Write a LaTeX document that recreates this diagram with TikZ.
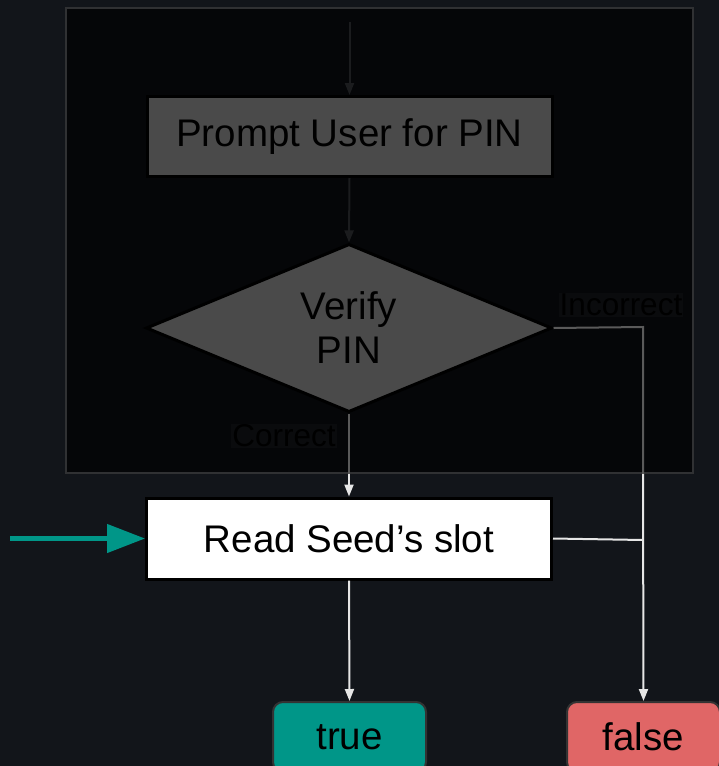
\documentclass[tikz,border=0pt]{standalone}
\usepackage{fontspec}
\setmainfont{Liberation Sans}
\usetikzlibrary{shapes.geometric,arrows.meta}

\definecolor{pagebg}{HTML}{12151A}
\definecolor{panelfill}{HTML}{050608}
\definecolor{paneledge}{HTML}{303133}
\definecolor{dimfill}{HTML}{4A4A4A}
\definecolor{dimline}{HTML}{5A5A5A}
\definecolor{faintline}{HTML}{1B1C1E}
\definecolor{labelbg}{HTML}{0A0B0D}
\definecolor{okteal}{HTML}{009688}
\definecolor{badred}{HTML}{E06666}
\definecolor{lightline}{HTML}{E6E6E6}
\definecolor{termedge}{HTML}{333333}

\tikzset{
  bigtext/.style={font=\fontsize{38.5}{44}\selectfont},
  smalltext/.style={font=\fontsize{31.5}{36}\selectfont},
  stepbox/.style={rectangle, draw=black, line width=3pt, inner sep=0pt,
    minimum width=405pt, minimum height=80pt, bigtext, text=black},
  decision/.style={diamond, draw=black, line width=3pt, fill=dimfill, inner sep=0pt,
    minimum width=406pt, minimum height=168pt, bigtext, text=black, align=center},
  terminal/.style={rectangle, rounded corners=10pt, draw=termedge, line width=2pt,
    inner sep=0pt, minimum width=153pt, minimum height=70pt, bigtext, text=black},
  edgelabel/.style={fill=labelbg, inner sep=1pt, smalltext, text=black},
  tip/.style={-{Triangle[length=12pt,width=9pt]}},
  faintflow/.style={draw=faintline, line width=2pt},
  dimflow/.style={draw=dimline, line width=2pt},
  brightflow/.style={draw=lightline, line width=2pt},
}

\begin{document}
\begin{tikzpicture}[x=1pt,y=-1pt]
  \useasboundingbox (0,0) rectangle (719,766);
  \clip (0,0) rectangle (719,766);
  \fill[pagebg] (0,0) rectangle (719,766);

  % darkened panel holding the PIN check
  \node[rectangle, fill=panelfill, draw=paneledge, line width=2pt,
        minimum width=627pt, minimum height=465pt, inner sep=0pt]
        (panel) at (379.5,240.5) {};

  % nodes
  \node[stepbox, fill=dimfill] (prompt) at (349.5,136.5) {Prompt User for PIN};
  \node[decision] (verify) at (349,328) {Verify\\PIN};
  \node[stepbox, fill=white, minimum height=81pt] (read) at (349,538.5) {Read Seed’s slot};
  \node[terminal, fill=okteal] (true) at (349.5,737) {true};
  \node[terminal, fill=badred] (false) at (643.5,737) {false};

  \coordinate (entry) at (349.5,22);
  \coordinate (feed) at (10,538.5);
  \coordinate (bend) at (643,327);
  \coordinate (join) at (643,540);

  % flow inside the panel
  \draw[faintflow, tip] (entry) -- (prompt.north);
  \draw[faintflow, tip] (prompt.south) -- (verify.north);
  \draw[dimflow] (verify.south) -- (verify.south |- panel.south);
  \draw[dimflow] (verify.east) -- (bend) -- (bend |- panel.south);

  % flow below the panel
  \draw[brightflow, tip] (verify.south |- panel.south) -- (read.north);
  \draw[brightflow, tip] (bend |- panel.south) -- (false.north);
  \draw[brightflow] (read.east) -- (join);
  \draw[brightflow, tip] (read.south) -- (true.north);

  % incoming arrow
  \draw[draw=okteal, line width=4.5pt, -{Triangle[length=38pt,width=28pt]}] (feed) -- (read.west);

  % branch labels
  \node[edgelabel] (incorrect) at (621,305) {Incorrect};
  \node[edgelabel] (correct) at (284,436) {Correct};
\end{tikzpicture}
\end{document}
